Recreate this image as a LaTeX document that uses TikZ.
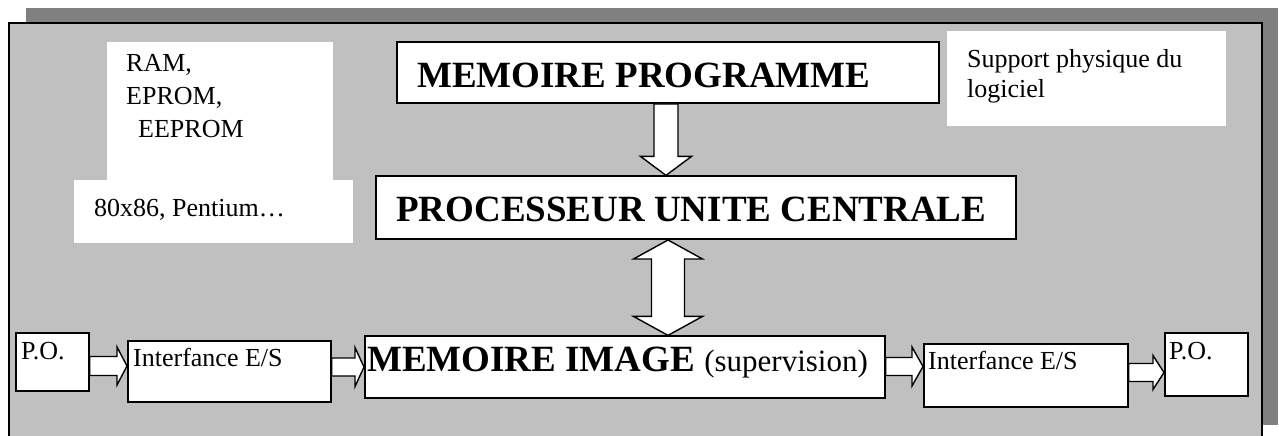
\documentclass[tikz,border=0pt]{standalone}
\usepackage{fontspec}
\setmainfont{Liberation Serif}
\usetikzlibrary{calc}
\definecolor{shadowgray}{RGB}{128,128,128}
\definecolor{panelgray}{RGB}{192,192,192}
\tikzset{
  box/.style={draw=black, fill=white, line width=1.6pt, rectangle, inner sep=0pt, anchor=south west},
  note/.style={fill=white, rectangle, inner sep=0pt, anchor=south west},
  txt/.style={inner sep=0pt, font=\fontsize{26}{30}\selectfont},
  bigtxt/.style={inner sep=0pt, font=\fontsize{37}{44}\selectfont\bfseries},
  barrow/.style={draw=black, fill=white, line width=1.4pt, line join=miter},
}
% horizontal block arrow: from, to, y centre, shaft half width, head half width, head length
\newcommand\hblockarrow[6]{%
  \draw[barrow] let \p1=(#1), \p2=(#2) in
    ({\x1},{(#3+#4)*1pt}) -- ({\x2-#6pt},{(#3+#4)*1pt}) -- ({\x2-#6pt},{(#3+#5)*1pt})
    -- ({\x2},{#3*1pt}) -- ({\x2-#6pt},{(#3-#5)*1pt}) -- ({\x2-#6pt},{(#3-#4)*1pt})
    -- ({\x1},{(#3-#4)*1pt}) -- cycle;}
% vertical block arrow pointing down: from (top), to (bottom), x centre, shaft half, head half, head length
\newcommand\vblockarrow[6]{%
  \draw[barrow] let \p1=(#1), \p2=(#2) in
    ({(#3-#4)*1pt},{\y1}) -- ({(#3-#4)*1pt},{\y2+#6pt}) -- ({(#3-#5)*1pt},{\y2+#6pt})
    -- ({#3*1pt},{\y2}) -- ({(#3+#5)*1pt},{\y2+#6pt}) -- ({(#3+#4)*1pt},{\y2+#6pt})
    -- ({(#3+#4)*1pt},{\y1}) -- cycle;}
% vertical double block arrow: from (bottom), to (top), x centre, shaft half, head half, head length
\newcommand\vdblarrow[6]{%
  \draw[barrow] let \p1=(#1), \p2=(#2) in
    ({#3*1pt},{\y1}) -- ({(#3+#5)*1pt},{\y1+#6pt}) -- ({(#3+#4)*1pt},{\y1+#6pt})
    -- ({(#3+#4)*1pt},{\y2-#6pt}) -- ({(#3+#5)*1pt},{\y2-#6pt}) -- ({#3*1pt},{\y2})
    -- ({(#3-#5)*1pt},{\y2-#6pt}) -- ({(#3-#4)*1pt},{\y2-#6pt})
    -- ({(#3-#4)*1pt},{\y1+#6pt}) -- ({(#3-#5)*1pt},{\y1+#6pt}) -- cycle;}
\begin{document}
\begin{tikzpicture}[x=1pt,y=1pt]
\useasboundingbox (0,0) rectangle (1279,436);
% shadow and panel
\fill[shadowgray] (26,11) rectangle (1278,428);
\draw[fill=panelgray, line width=1.6pt] (9,-5) rectangle (1262,413);

% white notes
\node[note, minimum width=226pt, minimum height=138pt] (ram) at (107,256) {};
\node[note, minimum width=279pt, minimum height=63pt] (cpu) at (74,193) {};
\node[note, minimum width=279pt, minimum height=95pt] (sup) at (947,310) {};

% boxes
\node[box, minimum width=542pt, minimum height=61pt] (mp) at (396,332) {};
\node[box, minimum width=640pt, minimum height=63pt] (proc) at (375,196) {};
\node[box, minimum width=520pt, minimum height=62pt] (mi) at (364,37) {};
\node[box, minimum width=73pt, minimum height=58pt] (po1) at (15,44) {};
\node[box, minimum width=203pt, minimum height=61pt] (if1) at (127,33) {};
\node[box, minimum width=204pt, minimum height=63pt] (if2) at (923,28) {};
\node[box, minimum width=83pt, minimum height=63pt] (po2) at (1164,39) {};

% texts
\node[txt, anchor=north west, align=left, font=\fontsize{26}{33}\selectfont] (ramt) at (126,381.5)
  {RAM,\\EPROM,\\\hspace*{12pt}EEPROM};
\node[txt, anchor=base west] (cput) at (94,219) {80x86, Pentium…};
\node[txt, anchor=north west, align=left] (supt) at (967,386.5) {Support physique du\\logiciel};
\node[bigtxt, anchor=base west] (mpt) at (417,348) {MEMOIRE PROGRAMME};
\node[bigtxt, anchor=base west] (proct) at (396,214) {PROCESSEUR UNITE CENTRALE};
\node[bigtxt, anchor=base west] (mit) at (367,64) {MEMOIRE IMAGE {\fontsize{31}{36}\mdseries\selectfont(supervision)}};
\node[txt, anchor=base west] (po1t) at (21,76) {P.O.};
\node[txt, anchor=base west] (if1t) at (133,69) {Interfance E/S};
\node[txt, anchor=base west] (if2t) at (928,66) {Interfance E/S};
\node[txt, anchor=base west] (po2t) at (1169,76) {P.O.};

% connectors
\vblockarrow{mp.south}{proc.north}{666}{12}{25.5}{19}
\vdblarrow{mi.north}{proc.south}{668}{16.5}{34.5}{19}
\hblockarrow{po1.east}{if1.west}{70}{9.5}{19}{10}
\hblockarrow{if1.east}{mi.west}{69}{9}{19.5}{9}
\hblockarrow{mi.east}{if2.west}{69.5}{9}{19.5}{11}
\hblockarrow{if2.east}{po2.west}{63.5}{9}{17}{11}
\end{tikzpicture}
\end{document}
